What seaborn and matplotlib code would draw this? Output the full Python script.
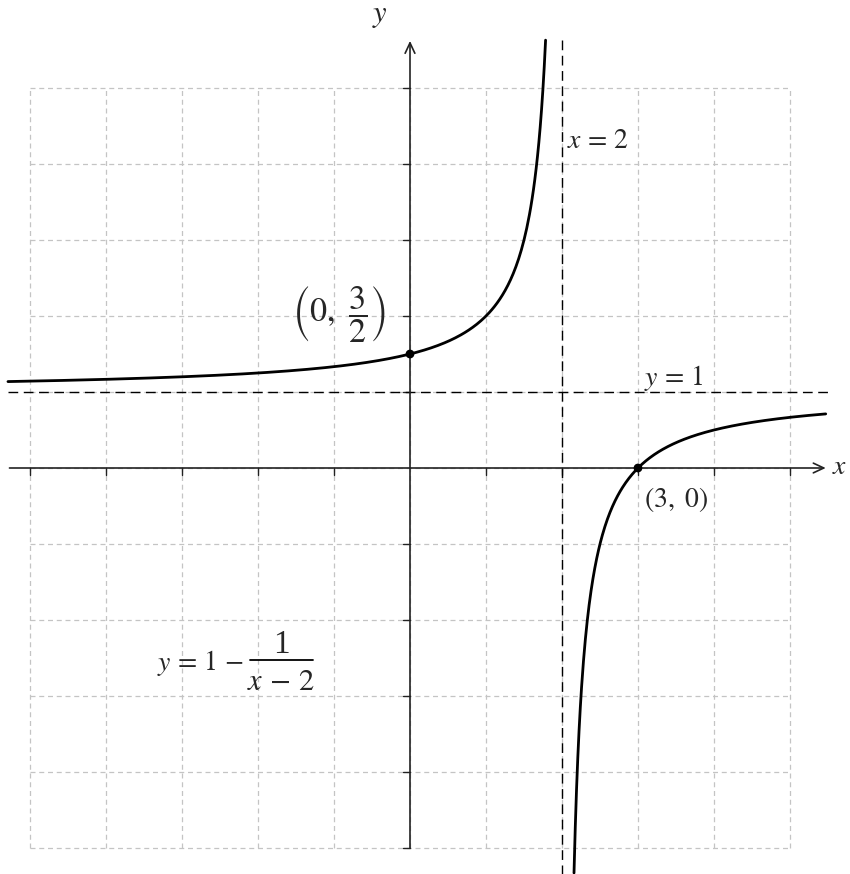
import numpy as np
import matplotlib
matplotlib.use("Agg")
import matplotlib.pyplot as plt
import seaborn as sns
import pandas as pd

# function y = 1 - 1/(x - 2), sampled on each side of the asymptote
left_x = np.linspace(-5.29, 1.784, 400)
right_x = np.linspace(2.158, 5.47, 400)
grid_vals = [-5, -4, -3, -2, -1, 0, 1, 2, 3, 4, 5]
points_x = [0, 3]
points_y = [1.5, 0]
asym_x = 2
asym_y = 1


def f(x):
    return 1 - 1 / (x - 2)


sns.set_style("white")
plt.rcParams["font.family"] = ["Liberation Serif", "DejaVu Serif"]
plt.rcParams["mathtext.fontset"] = "stix"

fig = plt.figure(figsize=(8.5, 8.74), dpi=100)
ax = fig.add_axes([0, 0, 1, 1])
ax.set_xlim(-410 / 76, 440 / 76)
ax.set_ylim((468 - 874) / 76, 468 / 76)
ax.axis("off")

# dashed grid
for g in grid_vals:
    ax.plot([g, g], [-5, 5], color="#c4c4c4", lw=0.9, ls=(0, (4, 3)), zorder=1)
    ax.plot([-5, 5], [g, g], color="#c4c4c4", lw=0.9, ls=(0, (4, 3)), zorder=1)

# axes with arrows
arrow = dict(arrowstyle="->,head_length=0.75,head_width=0.35", lw=1.2, color="#222222",
             shrinkA=0, shrinkB=0)
ax.annotate("", xy=(5.47, 0), xytext=(-5.27, 0), arrowprops=arrow)
ax.annotate("", xy=(0, 5.62), xytext=(0, -5.0), arrowprops=arrow)
for g in grid_vals:
    if g != 0:
        ax.plot([-0.09, 0], [g, g], color="#222222", lw=1.0, zorder=2)
        ax.plot([g, g], [0, -0.09], color="#222222", lw=1.0, zorder=2)

# asymptotes
ax.plot([asym_x, asym_x], [5.63, -5.4], color="black", lw=1.0, ls=(0, (7, 4)), zorder=2)
ax.plot([-5.29, 5.5], [asym_y, asym_y], color="black", lw=1.0, ls=(0, (7, 4)), zorder=2)

# curve branches
df_l = pd.DataFrame({"x": left_x, "y": f(left_x)})
df_r = pd.DataFrame({"x": right_x, "y": f(right_x)})
sns.lineplot(data=df_l, x="x", y="y", ax=ax, color="black", lw=2.0, sort=False, zorder=3)
sns.lineplot(data=df_r, x="x", y="y", ax=ax, color="black", lw=2.0, sort=False, zorder=3)
sns.scatterplot(x=points_x, y=points_y, ax=ax, color="black", s=40, zorder=4, edgecolor="none")

# labels
fs = 20
ax.text(-0.4, 5.95, "$y$", fontsize=22, ha="center", va="center")
ax.text(5.55, 0, "$x$", fontsize=20, ha="left", va="center")
ax.text(2.06, 4.3, r"$x\,=\,2$", fontsize=fs, ha="left", va="center")
ax.text(3.08, 1.18, r"$y\,=\,1$", fontsize=fs, ha="left", va="center")
ax.text(-0.93, 2.02, r"$\left(0,\ \dfrac{3}{2}\right)$", fontsize=24.5, ha="center", va="center")
ax.text(3.5, -0.42, r"$(3,\ 0)$", fontsize=fs, ha="center", va="center")

# y = 1 - 1/(x - 2), fraction built by hand
ax.text(-2.18, -2.57, r"$y\,=\,1\,-$", fontsize=fs, ha="right", va="center")
ax.plot([-2.105, -1.276], [-2.526, -2.526], color="black", lw=1.3)
ax.text(-1.69, -2.32, "1", fontsize=24, ha="center", va="center")
ax.text(-1.70, -2.82, r"$x\,-\,2$", fontsize=fs + 2, ha="center", va="center")

fig.savefig("out.png", dpi=100, facecolor="white")
